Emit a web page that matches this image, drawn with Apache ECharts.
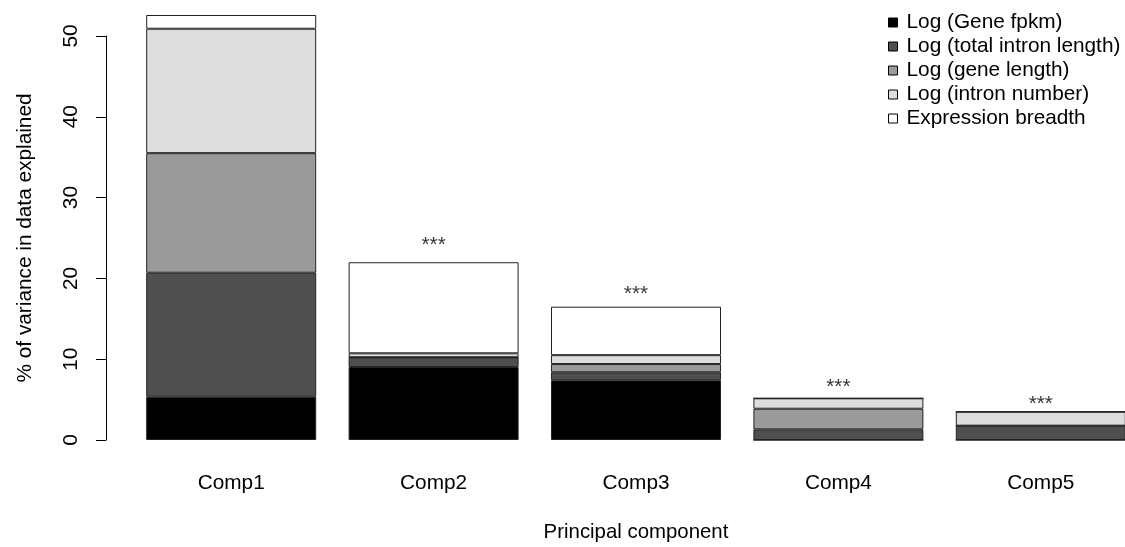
<!DOCTYPE html>
<html>
<head>
<meta charset="utf-8">
<script src="https://cdn.jsdelivr.net/npm/echarts@6/dist/echarts.min.js"></script>
<style>html,body{margin:0;padding:0;background:#fff;overflow:hidden;width:1125px;height:547px}#c{width:1142px;height:547px}</style>
</head>
<body>
<div id="c"></div>
<script>
const categories = ['Comp1', 'Comp2', 'Comp3', 'Comp4', 'Comp5'];
const geneFpkm      = [5.35, 9.03, 7.39, 0, 0];
const intronLength  = [15.35, 1.16, 0.99, 1.32, 1.77];
const geneLength    = [14.8, 0.05, 1.02, 2.55, 0];
const intronNumber  = [15.4, 0.49, 1.1, 1.29, 1.73];
const exprBreadth   = [1.7, 11.27, 6.0, 0, 0];
const starPositions = [null, 24.75, 18.65, 7.09, 5.07];
const starText      = ['', '***', '***', '***', '***'];
const yTicks = [0, 10, 20, 30, 40, 50];

const seriesDefs = [
  ['Log (Gene fpkm)', geneFpkm, '#000000'],
  ['Log (total intron length)', intronLength, '#4f4f4f'],
  ['Log (gene length)', geneLength, '#9a9a9a'],
  ['Log (intron number)', intronNumber, '#dddddd'],
  ['Expression breadth', exprBreadth, '#ffffff']
];
const FONT = 'Liberation Sans, Arial, Helvetica, sans-serif';
const FS = 20.8;

const chart = echarts.init(document.getElementById('c'), null, {renderer: 'canvas'});
const series = seriesDefs.map(([name, data, color]) => ({
  name, type: 'bar', stack: 'total', data, barWidth: 170, clip: false,
  itemStyle: {color, borderColor: '#222', borderWidth: 1},
  emphasis: {disabled: true}, animation: false
}));
series.push({
  type: 'scatter', data: starPositions.map((v, i) => v == null ? null : [i, v]),
  symbolSize: 0, clip: false, animation: false, silent: true,
  label: {show: true, position: 'inside', formatter: p => starText[p.dataIndex],
    color: '#000', fontSize: FS, fontFamily: FONT, offset: [0, 5]}
});

chart.setOption({
  backgroundColor: '#fff',
  animation: false,
  grid: {left: 130, top: 36, right: 0, bottom: 107, containLabel: false},
  legend: {
    left: 883, top: 7, orient: 'vertical', icon: 'rect', itemWidth: 9, itemHeight: 9, itemGap: 3,
    data: seriesDefs.map(d => d[0]),
    itemStyle: {borderColor: '#000', borderWidth: 1},
    textStyle: {fontSize: FS, fontFamily: FONT, color: '#000', lineHeight: 20, padding: [0, 0, 0, 4]}
  },
  xAxis: {
    type: 'category', data: categories,
    axisLine: {show: false}, axisTick: {show: false},
    axisLabel: {fontSize: FS, fontFamily: FONT, color: '#000', margin: 33},
    name: 'Principal component', nameLocation: 'middle', nameGap: 82,
    nameTextStyle: {fontSize: 20.4, fontFamily: FONT, color: '#000'}
  },
  yAxis: {
    type: 'value', min: yTicks[0], max: yTicks[yTicks.length - 1], interval: 10, offset: 24,
    splitLine: {show: false},
    axisLine: {show: true, lineStyle: {color: '#000', width: 1}},
    axisTick: {show: true, length: 10, lineStyle: {color: '#000'}},
    axisLabel: {rotate: 90, fontSize: FS, fontFamily: FONT, color: '#000', margin: 24},
    name: '% of variance in data explained', nameLocation: 'middle', nameGap: 70, nameRotate: 90,
    nameTextStyle: {fontSize: FS, fontFamily: FONT, color: '#000'}
  },
  series
});
</script>
</body>
</html>
